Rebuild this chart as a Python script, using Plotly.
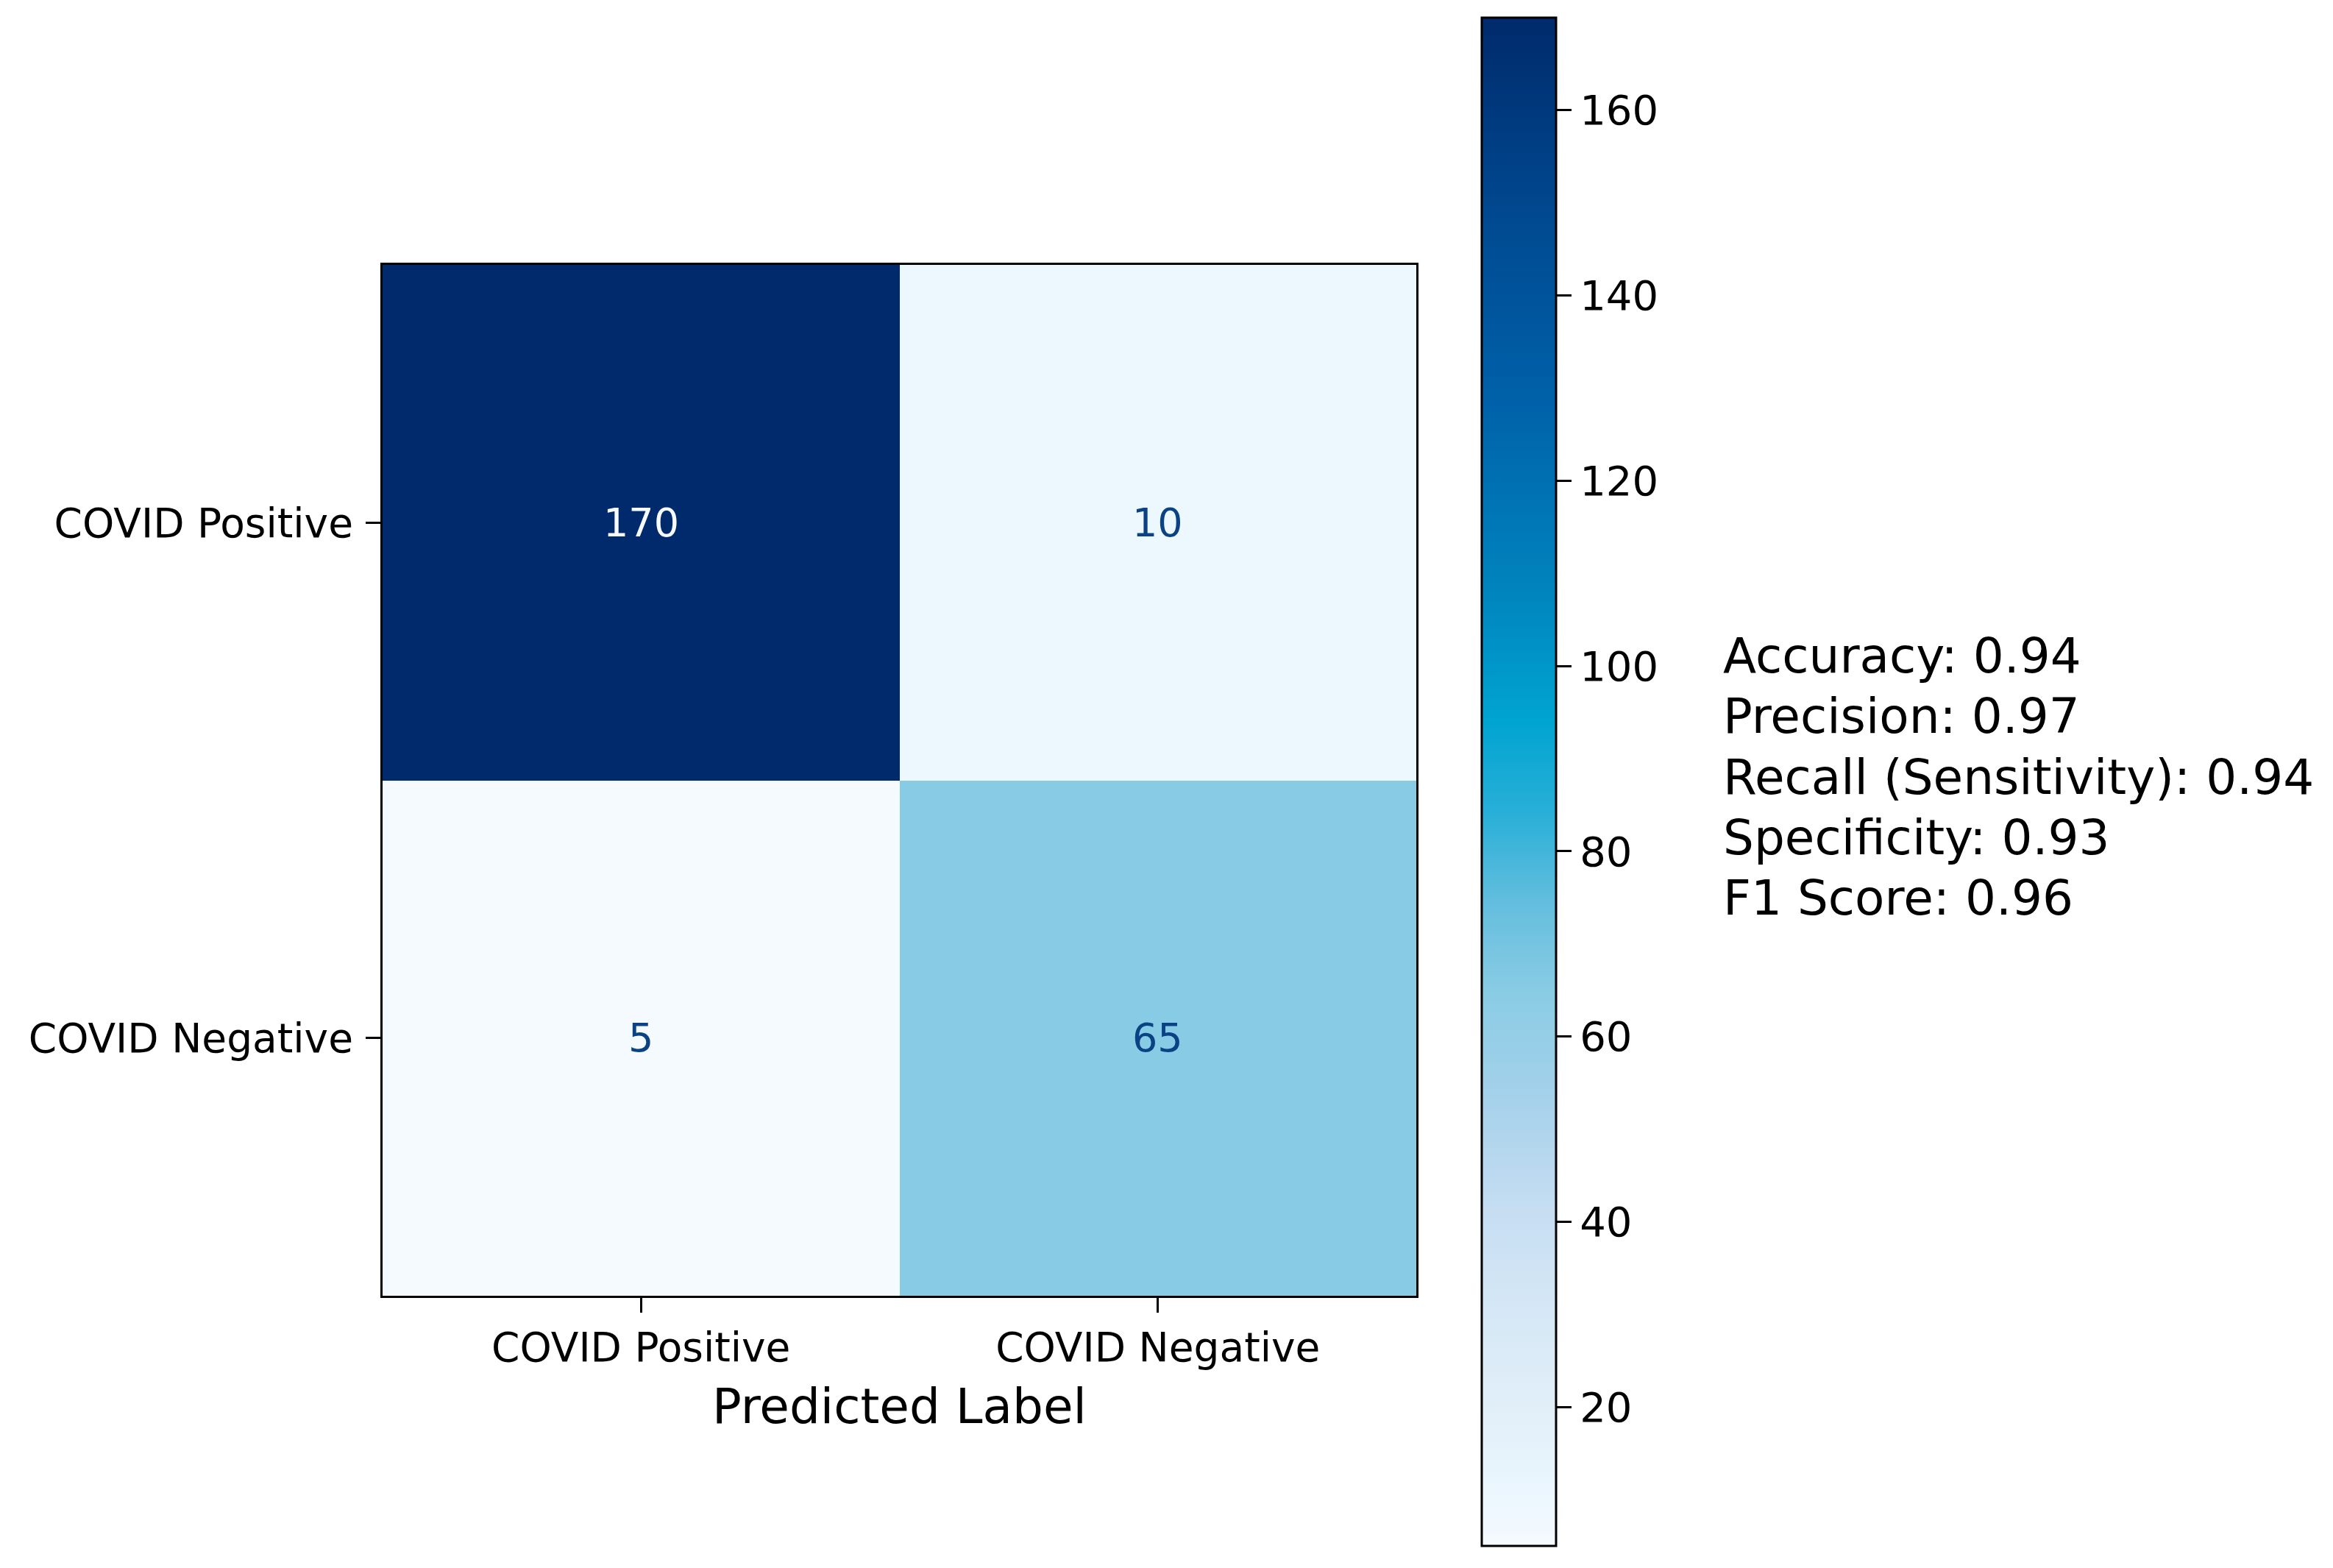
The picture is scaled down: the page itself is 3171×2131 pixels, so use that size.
import plotly.graph_objects as go

# ---- data ----
pred_labels = ["COVID Positive", "COVID Negative"]
true_labels = ["COVID Positive", "COVID Negative"]
counts = [[170, 10],
          [5, 65]]
cbar_ticks = [20, 40, 60, 80, 100, 120, 140, 160]
metric_names = ["Accuracy", "Precision", "Recall (Sensitivity)", "Specificity", "F1 Score"]
metric_values = [0.94, 0.97, 0.94, 0.93, 0.96]

W, H = 3171, 2131
OFF = 8  # page body margin
FONT = "DejaVu Sans"


def px(x):
    return (x - OFF) / W


def py(y):
    return 1 - (y - OFF) / H


colorscale = [
    [0.00, "rgb(245,250,254)"],
    [0.03, "rgb(236,247,254)"],
    [0.08, "rgb(227,240,249)"],
    [0.15, "rgb(214,232,246)"],
    [0.22, "rgb(198,221,242)"],
    [0.30, "rgb(162,208,234)"],
    [0.36, "rgb(138,204,228)"],
    [0.42, "rgb(100,190,222)"],
    [0.48, "rgb(40,175,215)"],
    [0.54, "rgb(0,164,209)"],
    [0.625, "rgb(0,132,190)"],
    [0.75, "rgb(0,97,169)"],
    [0.875, "rgb(0,72,143)"],
    [1.00, "rgb(0,42,107)"],
]

zmin, zmax = 5, 170

fig = go.Figure()
fig.add_trace(go.Heatmap(
    z=counts, x=pred_labels, y=true_labels,
    colorscale=colorscale, zmin=zmin, zmax=zmax,
    xgap=0, ygap=0,
    colorbar=dict(
        x=px(2014), xanchor="left", xpad=0,
        y=py((24 + 2101) / 2), yanchor="middle", ypad=0,
        len=(2101 - 24) / H, lenmode="fraction",
        thickness=101, thicknessmode="pixels",
        outlinecolor="black", outlinewidth=3,
        tickvals=cbar_ticks, ticks="outside", ticklen=20, tickwidth=3,
        tickcolor="black",
        tickfont=dict(family=FONT, size=56, color="black"),
    ),
    hoverongaps=False,
))

# cell value annotations
annotations = []
for i, row in enumerate(counts):
    for j, v in enumerate(row):
        frac = (v - zmin) / (zmax - zmin)
        col = "rgb(247,251,255)" if frac > 0.5 else "rgb(10,66,132)"
        annotations.append(dict(
            x=pred_labels[j], y=true_labels[i], xref="x", yref="y",
            text=str(v), showarrow=False,
            font=dict(family=FONT, size=54, color=col),
        ))

annotations.append(dict(
    x=px((520 + 1925) / 2), y=py(1911), xref="paper", yref="paper",
    text="Predicted Label", showarrow=False, xanchor="center", yanchor="middle",
    font=dict(family=FONT, size=66, color="black"),
))

# metrics text block, one line per metric
line_gap = 82.4
center = 1056
n = len(metric_names)
for k, (name, val) in enumerate(zip(metric_names, metric_values)):
    yc = center + (k - (n - 1) / 2) * line_gap
    annotations.append(dict(
        x=px(2340), y=py(yc), xref="paper", yref="paper",
        text=f"{name}: {val:.2f}", showarrow=False, xanchor="left", yanchor="middle",
        align="left", font=dict(family=FONT, size=66, color="black"),
    ))

fig.update_layout(
    width=W, height=H,
    margin=dict(l=0, r=0, t=0, b=0),
    paper_bgcolor="white", plot_bgcolor="white",
    annotations=annotations,
    xaxis=dict(
        domain=[px(520), px(1925)],
        showline=True, linecolor="black", linewidth=3, mirror=True,
        ticks="outside", ticklen=20, tickwidth=3, tickcolor="black",
        tickfont=dict(family=FONT, size=55, color="black"),
        showgrid=False, zeroline=False,
        ticklabelstandoff=0,
    ),
    yaxis=dict(
        domain=[py(1761), py(360)],
        autorange="reversed",
        showline=True, linecolor="black", linewidth=3, mirror=True,
        ticks="outside", ticklen=20, tickwidth=3, tickcolor="black",
        tickfont=dict(family=FONT, size=55, color="black"),
        showgrid=False, zeroline=False,
        ticklabelstandoff=6,
    ),
)

fig.write_html("out.html")
